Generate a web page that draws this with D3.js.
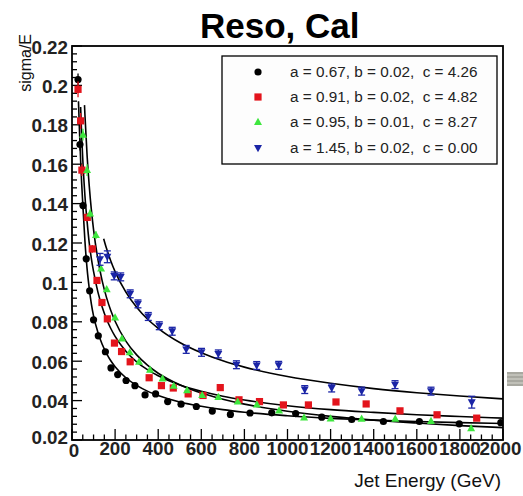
<!DOCTYPE html>
<html><head><meta charset="utf-8">
<script src="https://cdn.jsdelivr.net/npm/d3@7"></script>
<style>
html,body{margin:0;padding:0;background:#fff;}
svg{display:block;}
text{font-family:"Liberation Sans",Arial,Helvetica,sans-serif;}
</style></head>
<body>
<svg id="c" width="523" height="496"></svg>
<script>
// ---------- data ----------
const blackE = [28,37,51,66,82,100,122,155,181,212,251,292,339,388,444,506,577,651,735,826,927,1038,1159,1298,1445,1612,1797,1990];
const blackV = [0.203,0.170,0.139,0.112,0.0957,0.081,0.0729,0.0648,0.0566,0.0532,0.0502,0.0476,0.0429,0.0434,0.0395,0.0382,0.037,0.0347,0.033,0.0337,0.0338,0.0334,0.0316,0.0304,0.0294,0.0294,0.0282,0.0288];
const blackErr = [0.003,0.003,0.002,0.002,0.001,0.001,0.001,0.001,0.001,0.001,0.001,0.001,0.001,0.001,0.001,0.001,0.001,0.001,0.001,0.001,0.001,0.001,0.001,0.001,0.001,0.001,0.001,0.001];

const redE = [28,40,46,71,94,116,139,164,197,230,270,358,415,470,539,608,688,775,870,981,1097,1225,1365,1522,1694,1878];
const redV = [0.198,0.182,0.157,0.133,0.117,0.101,0.0898,0.0815,0.0692,0.0649,0.0597,0.0516,0.0476,0.0464,0.0434,0.0426,0.0466,0.0404,0.0395,0.0378,0.0378,0.0393,0.0383,0.0348,0.0328,0.0311];
const redErr = [0.004,0.004,0.003,0.002,0.002,0.001,0.001,0.001,0.001,0.001,0.001,0.001,0.001,0.001,0.001,0.001,0.001,0.001,0.001,0.001,0.001,0.001,0.001,0.001,0.001,0.001];

const greenE = [51,70,84,111,135,161,200,232,268,311,362,420,472,534,604,679,769,858,961,1077,1200,1344,1500,1666,1852];
const greenV = [0.175,0.157,0.135,0.124,0.107,0.0965,0.0822,0.0715,0.0645,0.0597,0.0557,0.0512,0.0475,0.0453,0.0428,0.0418,0.0395,0.038,0.035,0.0314,0.0309,0.0308,0.0308,0.0297,0.026];
const greenErr = [0.003,0.003,0.002,0.002,0.001,0.001,0.001,0.001,0.001,0.001,0.001,0.001,0.001,0.001,0.001,0.001,0.001,0.001,0.001,0.001,0.001,0.001,0.001,0.001,0.001];

const blueE = [130,164,196,226,270,306,354,405,465,530,601,679,763,857,959,1080,1205,1344,1499,1666,1855];
const blueV = [0.1117,0.113,0.1033,0.1028,0.0942,0.0891,0.0827,0.078,0.0752,0.066,0.0645,0.0637,0.0582,0.0578,0.0579,0.0456,0.0464,0.0448,0.0481,0.0448,0.0392];
const blueErr = [0.003,0.003,0.002,0.002,0.002,0.002,0.002,0.002,0.002,0.002,0.002,0.002,0.002,0.002,0.002,0.002,0.002,0.002,0.002,0.002,0.003];

// fitted curves
const fitBlackE = [30,35,40,45,50,60,70,80,90,100,120,140,160,180,200,250,300,350,400,500,600,700,800,1000,1200,1400,1600,1800,2000];
const fitBlackV = [0.192,0.176,0.162,0.150,0.140,0.121,0.107,0.097,0.089,0.083,0.0747,0.0686,0.0640,0.0602,0.0572,0.0516,0.0477,0.0448,0.0426,0.0393,0.0371,0.0354,0.0341,0.0323,0.0310,0.0301,0.0294,0.0288,0.0284];
const fitRedE = [40,45,50,60,70,80,90,100,120,140,160,180,200,250,300,350,400,500,600,700,800,1000,1200,1400,1600,1800,2000];
const fitRedV = [0.189,0.174,0.1625,0.144,0.131,0.120,0.112,0.1056,0.0952,0.0875,0.0814,0.0766,0.0726,0.0651,0.0597,0.0557,0.0526,0.0479,0.0447,0.0422,0.0403,0.0374,0.0354,0.0340,0.0328,0.0319,0.0311];
const fitGreenE = [58,60,70,80,90,100,120,140,160,180,200,250,300,350,400,500,600,700,800,1000,1200,1400,1600,1800,2000];
const fitGreenV = [0.190,0.1851,0.1645,0.149,0.1367,0.1268,0.1118,0.1008,0.0924,0.0857,0.0803,0.0702,0.0632,0.0580,0.0539,0.0480,0.0438,0.0407,0.0382,0.0346,0.0320,0.0301,0.0286,0.0273,0.0263];
const fitBlueE = [147,160,180,200,250,300,350,400,500,600,700,800,1000,1200,1400,1600,1800,2000];
const fitBlueV = [0.1222,0.1173,0.1109,0.1055,0.0951,0.0874,0.0814,0.0767,0.0695,0.0643,0.0602,0.0570,0.0522,0.0488,0.0461,0.0440,0.0423,0.0409];

const legendLabels = ["a = 0.67, b = 0.02,  c = 4.26","a = 0.91, b = 0.02,  c = 4.82","a = 0.95, b = 0.01,  c = 8.27","a = 1.45, b = 0.02,  c = 0.00"];
const xTickValues = [0,200,400,600,800,1000,1200,1400,1600,1800,2000];
const yTickValues = [0.02,0.04,0.06,0.08,0.1,0.12,0.14,0.16,0.18,0.2,0.22];
const yTickLabels = ["0.02","0.04","0.06","0.08","0.1","0.12","0.14","0.16","0.18","0.2","0.22"];

// ---------- drawing ----------
const svg = d3.select("#c");
const L=72,R=503,T=46,B=440;
const x = d3.scaleLinear().domain([0,2000]).range([L,R]);
const y = d3.scaleLinear().domain([0.02,0.22]).range([B,T]);

svg.append("defs").append("clipPath").attr("id","clip")
  .append("rect").attr("x",L).attr("y",T).attr("width",R-L).attr("height",B-T);

// title
svg.append("text").attr("x",200).attr("y",38).attr("font-size",35).attr("font-weight","bold")
  .attr("fill","#000").text("Reso, Cal");

// ticks (inward)
const gx = svg.append("g");
d3.range(0,2001,50).forEach(v=>{
  const major = v%200===0;
  gx.append("line").attr("x1",x(v)).attr("x2",x(v)).attr("y1",B).attr("y2",B-(major?11:5.5))
    .attr("stroke","#000").attr("stroke-width",1.3);
});
const gy = svg.append("g");
d3.range(0,51).forEach(i=>{
  const v = 0.02 + i*0.004;
  const major = i%5===0;
  gy.append("line").attr("x1",L).attr("x2",L+(major?10:5)).attr("y1",y(v)).attr("y2",y(v))
    .attr("stroke","#000").attr("stroke-width",1.3);
});

// tick labels
const tlab = {size:18.8, weight:"bold"};
xTickValues.forEach((v,i)=>{
  const dx = v===0 ? 2 : (v===2000 ? -2.5 : 0);
  svg.append("text").attr("x",x(v)+dx).attr("y",v===0?457:455).attr("text-anchor","middle")
    .attr("font-size",tlab.size).attr("font-weight",tlab.weight).attr("fill","#222").text(String(v));
});
yTickValues.forEach((v,i)=>{
  svg.append("text").attr("x",68).attr("y",i===0?y(v)+4:y(v)+7.5).attr("text-anchor","end")
    .attr("font-size",tlab.size).attr("font-weight",tlab.weight).attr("fill","#222").text(yTickLabels[i]);
});

// axis titles
svg.append("text").attr("text-anchor","end").attr("font-size",16)
  .attr("transform","translate(31,34) rotate(-90)").attr("fill","#111").text("sigma/E");
svg.append("text").attr("x",501).attr("y",487).attr("text-anchor","end").attr("font-size",19)
  .attr("fill","#111").text("Jet Energy (GeV)");

// plot contents
const plot = svg.append("g").attr("clip-path","url(#clip)");
const line = d3.line().x(d=>x(d[0])).y(d=>y(d[1])).curve(d3.curveMonotoneX);

[[fitBlackE,fitBlackV],[fitRedE,fitRedV],[fitGreenE,fitGreenV],[fitBlueE,fitBlueV]].forEach(([E,V])=>{
  plot.append("path").datum(E.map((e,i)=>[e,V[i]])).attr("d",line)
    .attr("fill","none").attr("stroke","#000").attr("stroke-width",1.6);
});

const series = [
  {E:blackE,V:blackV,Er:blackErr,color:"#000000",shape:"circle"},
  {E:redE,V:redV,Er:redErr,color:"#e3141c",shape:"square"},
  {E:greenE,V:greenV,Er:greenErr,color:"#3ee63e",shape:"tri"},
  {E:blueE,V:blueV,Er:blueErr,color:"#1a24a6",shape:"itri"}
];
function drawMarker(g,shape,cx,cy,color){
  if(shape==="circle") g.append("circle").attr("cx",cx).attr("cy",cy).attr("r",3.6).attr("fill",color);
  else if(shape==="square") g.append("rect").attr("x",cx-3.6).attr("y",cy-3.6).attr("width",7.2).attr("height",7.2).attr("fill",color);
  else if(shape==="tri") g.append("path").attr("d",`M${cx},${cy-4.2}L${cx+4},${cy+3}L${cx-4},${cy+3}Z`).attr("fill",color);
  else g.append("path").attr("d",`M${cx},${cy+4.2}L${cx+4},${cy-3}L${cx-4},${cy-3}Z`).attr("fill",color);
}
series.forEach(s=>{
  s.E.forEach((e,i)=>{
    const cx=x(e), cy=y(s.V[i]);
    const y1=y(s.V[i]+s.Er[i]), y2=y(s.V[i]-s.Er[i]);
    plot.append("line").attr("x1",cx).attr("x2",cx).attr("y1",y1).attr("y2",y2).attr("stroke",s.color).attr("stroke-width",1.3);
    if(s.shape==="itri"){
      plot.append("line").attr("x1",cx-3.5).attr("x2",cx+3.5).attr("y1",y1).attr("y2",y1).attr("stroke",s.color).attr("stroke-width",1.3);
      plot.append("line").attr("x1",cx-3.5).attr("x2",cx+3.5).attr("y1",y2).attr("y2",y2).attr("stroke",s.color).attr("stroke-width",1.3);
    }
    drawMarker(plot,s.shape,cx,cy,s.color);
  });
});

// frame
svg.append("rect").attr("x",L).attr("y",T).attr("width",R-L).attr("height",B-T)
  .attr("fill","none").attr("stroke","#000").attr("stroke-width",1.8);

// legend
const lg = svg.append("g");
lg.append("rect").attr("x",222).attr("y",56).attr("width",275).attr("height",108)
  .attr("fill","#fdfdfd").attr("stroke","#000").attr("stroke-width",1.3);
const rowsY=[72,97,122,148];
series.forEach((s,i)=>{
  drawMarker(lg,s.shape,258,rowsY[i],s.color);
  lg.append("text").attr("x",290).attr("y",rowsY[i]+5).attr("font-size",15.3)
    .attr("fill","#222").style("white-space","pre").text(legendLabels[i]);
});

// small grey element at right edge
const gr = svg.append("g");
gr.append("rect").attr("x",507).attr("y",372).attr("width",16).attr("height",14).attr("fill","#a8a8a0");
[375,379,383].forEach(yy=>gr.append("line").attr("x1",507).attr("x2",523).attr("y1",yy).attr("y2",yy).attr("stroke","#d8d8d0").attr("stroke-width",1));
</script>
</body></html>
